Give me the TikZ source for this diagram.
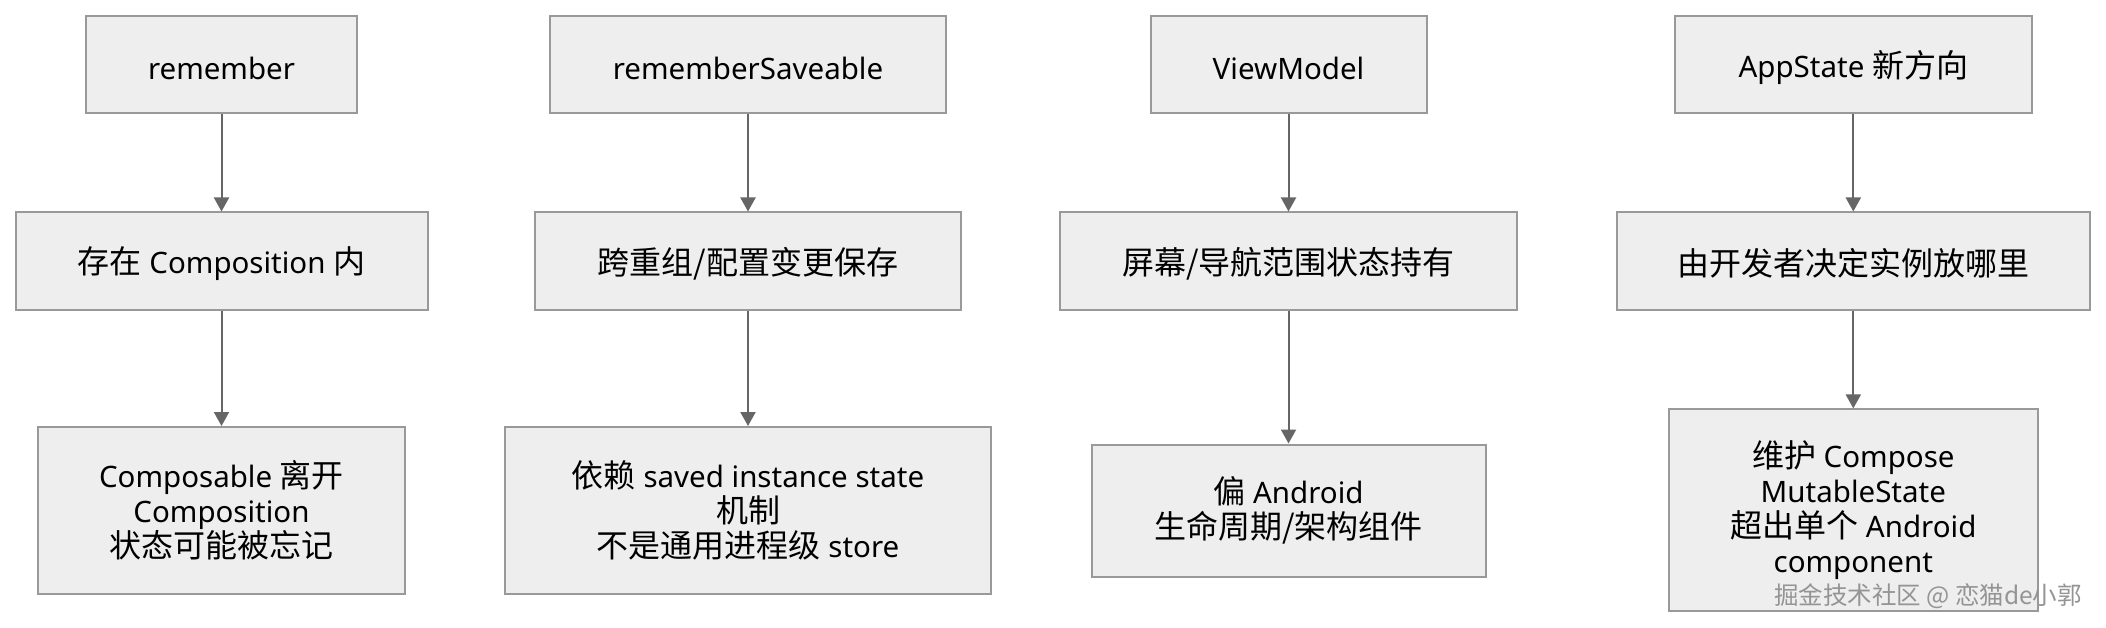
\documentclass[tikz,border=0pt]{standalone}
\usepackage{fontspec}
\setmainfont{Noto Sans}
\newfontfamily\cjk{Noto Sans CJK SC}
\newcommand\zh[1]{{\cjk\fontsize{32}{35}\selectfont #1}}
\usetikzlibrary{arrows.meta}
\definecolor{boxfill}{HTML}{EEEEEE}
\definecolor{boxline}{HTML}{999999}
\definecolor{arrowc}{HTML}{666666}
\tikzset{
  box/.style={draw=boxline, fill=boxfill, line width=2pt, inner sep=0pt,
    align=center, font=\fontsize{29.5}{35}\selectfont, text=black,
    execute at begin node={\rule{0pt}{33pt}},
    execute at end node={\rule[-3pt]{0pt}{3pt}}},
  conn/.style={draw=arrowc, line width=2pt, -{Triangle[width=15pt,length=14pt]}},
  wm/.style={font=\cjk\fontsize{24.5}{30}\selectfont, text=black!42, inner sep=0pt}
}
\begin{document}
\begin{tikzpicture}[x=1pt,y=-1pt]
\fill[white] (0,0) rectangle (2106,628);
\useasboundingbox (0,0) rectangle (2106,628);
% column 1
\node[box, minimum width=271pt, minimum height=97pt] (a1) at (221.5,64.5) {remember};
\node[box, minimum width=412pt, minimum height=97pt] (b1) at (221.5,261) {\zh{存在} Composition \zh{内}};
\node[box, minimum width=367pt, minimum height=167pt] (c1) at (221.5,510.5) {Composable \zh{离开}\\Composition\\\zh{状态可能被忘记}};
% column 2
\node[box, minimum width=396pt, minimum height=97pt] (a2) at (748,64.5) {rememberSaveable};
\node[box, minimum width=426pt, minimum height=97pt] (b2) at (748,261) {\zh{跨重组/配置变更保存}};
\node[box, minimum width=486pt, minimum height=167pt] (c2) at (748,510.5) {\zh{依赖} saved instance state\\\zh{机制}\\\zh{不是通用进程级} store};
% column 3
\node[box, minimum width=276pt, minimum height=97pt] (a3) at (1288.5,64.5) {ViewModel};
\node[box, minimum width=457pt, minimum height=97pt] (b3) at (1288.5,261) {\zh{屏幕/导航范围状态持有}};
\node[box, minimum width=394pt, minimum height=132pt] (c3) at (1288.5,510.5) {\zh{偏} Android\\\zh{生命周期/架构组件}};
% column 4
\node[box, minimum width=357pt, minimum height=97pt] (a4) at (1853.3,64.5) {AppState \zh{新方向}};
\node[box, minimum width=473pt, minimum height=97pt] (b4) at (1853.3,261) {\zh{由开发者决定实例放哪里}};
\node[box, minimum width=369pt, minimum height=202pt] (c4) at (1853.3,510.4) {\zh{维护} Compose\\MutableState\\\zh{超出单个} Android\\component};
% connectors
\draw[conn] (a1) -- (b1);
\draw[conn] (b1) -- (c1);
\draw[conn] (a2) -- (b2);
\draw[conn] (b2) -- (c2);
\draw[conn] (a3) -- (b3);
\draw[conn] (b3) -- (c3);
\draw[conn] (a4) -- (b4);
\draw[conn] (b4) -- (c4);
% watermark
\node[wm] (wmark) at (1928,596) {掘金技术社区 @ 恋猫de小郭};
\end{tikzpicture}
\end{document}
